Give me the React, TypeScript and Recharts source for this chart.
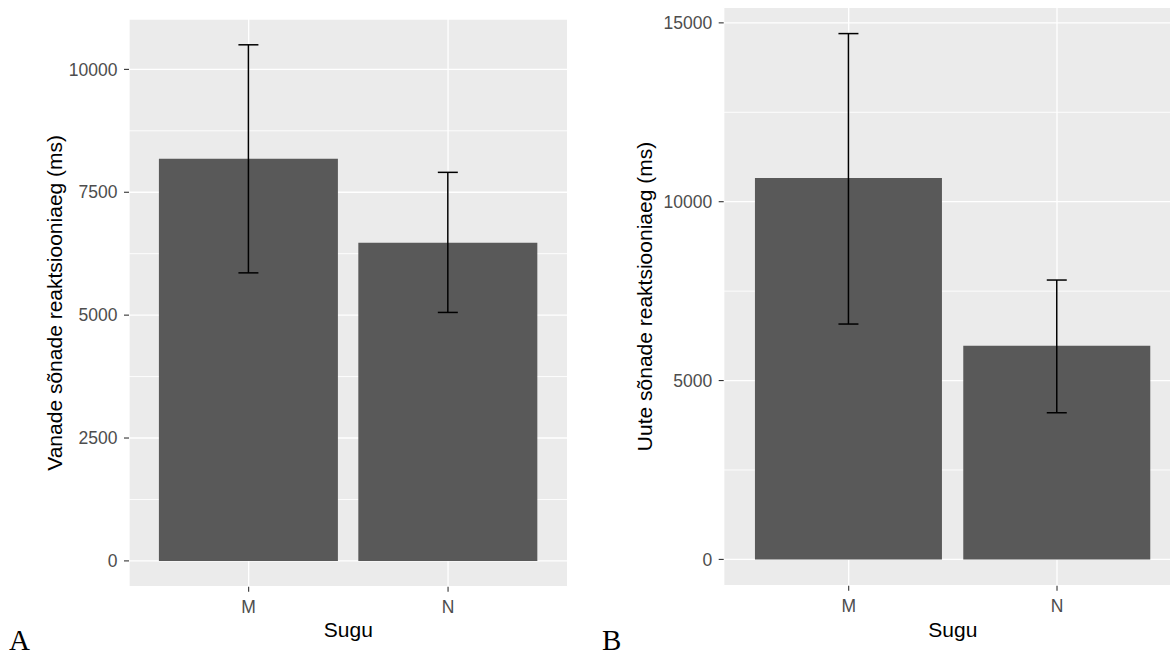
import React from "react";
import { BarChart, Bar, XAxis, YAxis, CartesianGrid, ErrorBar } from "recharts";

const sugu = ["M", "N"];

// A: vanade sõnade reaktsiooniaeg (ms)
const vanadeMean = [8180, 6475];
const vanadeLow = [5860, 5055];
const vanadeHigh = [10500, 7905];
const vanadeTicks = [0, 2500, 5000, 7500, 10000];
const vanadeMinor = [1250, 3750, 6250, 8750];

// B: uute sõnade reaktsiooniaeg (ms)
const uuteMean = [10660, 5970];
const uuteLow = [6580, 4100];
const uuteHigh = [14700, 7810];
const uuteTicks = [0, 5000, 10000, 15000];
const uuteMinor = [2500, 7500, 12500];

const FONT = "'Liberation Sans', Arial, sans-serif";

interface PanelProps {
  mean: number[];
  low: number[];
  high: number[];
  ticks: number[];
  minor: number[];
  yTitle: string;
  left: number;
  width: number;
  yAxisWidth: number;
  top: number;
  rightMargin: number;
  xAxisHeight: number;
  titleX: number;
}

const Panel: React.FC<PanelProps> = ({
  mean,
  low,
  high,
  ticks,
  minor,
  yTitle,
  left,
  width,
  yAxisWidth,
  top,
  rightMargin,
  xAxisHeight,
  titleX,
}) => {
  const data = sugu.map((s, i) => ({
    sugu: s,
    mean: mean[i],
    err: [mean[i] - low[i], high[i] - mean[i]],
  }));
  // ggplot style 5% expansion
  const maxY = Math.max(...high);
  const pad = maxY * 0.05;
  const plotW = width - yAxisWidth - rightMargin;
  const xPad = plotW / 22;

  return (
    <div style={{ position: "absolute", left, top: 0 }}>
      <BarChart
        width={width}
        height={655}
        data={data}
        margin={{ top, right: rightMargin, bottom: 0, left: 0 }}
        barCategoryGap="5%"
      >
        <CartesianGrid fill="#EBEBEB" stroke="#FFFFFF" strokeWidth={1.3} />
        <CartesianGrid
          horizontalValues={minor}
          vertical={false}
          stroke="#FFFFFF"
          strokeWidth={0.9}
        />
        <XAxis
          dataKey="sugu"
          height={xAxisHeight}
          padding={{ left: xPad, right: xPad }}
          axisLine={false}
          tickSize={5}
          tickMargin={9}
          tickLine={{ stroke: "#333333", strokeWidth: 1.1 }}
          tick={{ fill: "#4D4D4D", fontSize: 17.5 }}
          label={{
            content: (p: any) => {
              const vb = p.viewBox;
              return (
                <text
                  x={vb.x + vb.width / 2}
                  y={vb.y + vb.height - 17.7}
                  textAnchor="middle"
                  fontSize={21}
                  fill="#000000"
                >
                  Sugu
                </text>
              );
            },
          }}
        />
        <YAxis
          type="number"
          domain={[-pad, maxY + pad]}
          ticks={ticks}
          width={yAxisWidth}
          axisLine={false}
          tickSize={5}
          tickMargin={6.5}
          tickLine={{ stroke: "#333333", strokeWidth: 1.1 }}
          tick={{ fill: "#4D4D4D", fontSize: 17.5 }}
          label={{
            content: (p: any) => {
              const vb = p.viewBox;
              const cx = vb.x + titleX;
              const cy = vb.y + vb.height / 2;
              return (
                <text
                  x={cx}
                  y={cy}
                  transform={`rotate(-90 ${cx} ${cy})`}
                  textAnchor="middle"
                  fontSize={21}
                  fill="#000000"
                >
                  {yTitle}
                </text>
              );
            },
          }}
        />
        <Bar dataKey="mean" fill="#595959" isAnimationActive={false}>
          <ErrorBar
            dataKey="err"
            direction="y"
            width={10}
            stroke="#000000"
            strokeWidth={1.5}
            isAnimationActive={false}
          />
        </Bar>
      </BarChart>
    </div>
  );
};

const letterStyle: React.CSSProperties = {
  position: "absolute",
  fontFamily: "'Liberation Serif', 'Times New Roman', serif",
  fontSize: 29,
  lineHeight: "28px",
  height: 28,
  color: "#000",
};

export default function App() {
  return (
    <div
      style={{
        position: "absolute",
        left: 0,
        top: 0,
        width: 1170,
        height: 655,
        overflow: "hidden",
        background: "#ffffff",
        fontFamily: FONT,
      }}
    >
      <Panel
        mean={vanadeMean}
        low={vanadeLow}
        high={vanadeHigh}
        ticks={vanadeTicks}
        minor={vanadeMinor}
        yTitle="Vanade sõnade reaktsiooniaeg (ms)"
        left={0}
        width={585}
        yAxisWidth={129}
        top={19}
        rightMargin={17.3}
        xAxisHeight={68.3}
        titleX={62}
      />
      <Panel
        mean={uuteMean}
        low={uuteLow}
        high={uuteHigh}
        ticks={uuteTicks}
        minor={uuteMinor}
        yTitle="Uute sõnade reaktsiooniaeg (ms)"
        left={585}
        width={610}
        yAxisWidth={138.7}
        top={7.3}
        rightMargin={13}
        xAxisHeight={69.3}
        titleX={67}
      />
      <div style={{ ...letterStyle, left: 9, top: 626 }}>A</div>
      <div style={{ ...letterStyle, left: 602, top: 626 }}>B</div>
    </div>
  );
}
